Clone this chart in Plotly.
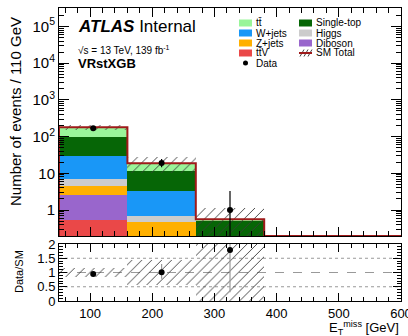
import numpy as np
import plotly.graph_objects as go

# ---------------- data ----------------
bin_edges = [50, 160, 270, 380, 600]
ttV        = [0.53, 0.0, 0.0, 0.0]
diboson    = [2.03, 0.0, 0.0, 0.0]
zjets      = [2.04, 0.46, 0.0, 0.0]
higgs      = [2.40, 0.24, 0.0, 0.0]
wjets      = [23.1, 2.60, 0.0, 0.0]
single_top = [69.0, 8.20, 0.53, 0.0]
ttbar      = [80.0, 7.30, 0.03, 0.0]
sm_unc     = [27.0, 8.50, 0.56, 0.0]
data       = [169, 19, 1]
data_err_lo = [12.5, 4.3, 0.83]
data_err_hi = [13.5, 5.4, 2.30]
x_ticks = [100, 200, 300, 400, 500, 600]

samples = [  # bottom -> top
    ("ttV", ttV, "#EA4848"),
    ("Diboson", diboson, "#9966CC"),
    ("Z+jets", zjets, "#FFB000"),
    ("Higgs", higgs, "#CCCCCC"),
    ("W+jets", wjets, "#1997F7"),
    ("Single-top", single_top, "#066606"),
    ("ttbar", ttbar, "#99F599"),
]

edges = np.array(bin_edges, dtype=float)
centers = 0.5 * (edges[:-1] + edges[1:])
widths = edges[1:] - edges[:-1]
nb = len(centers)

YMIN = 10 ** -0.708
YMAX = 10 ** 5.504
FLOOR = 1e-4

fig = go.Figure()

cum = np.zeros(nb)
for name, vals, col in samples:
    v = np.array(vals, dtype=float)
    base = np.where(cum > 0, cum, FLOOR)
    height = np.where(v > 0, cum + v - base, 0.0)
    fig.add_trace(go.Bar(x=centers, y=height, base=base, width=widths,
                         marker=dict(color=col, line=dict(width=0)),
                         xaxis="x", yaxis="y", showlegend=False, name=name))
    cum = cum + v
total = cum

unc = np.array(sm_unc)
lo = np.where(total - unc > 0, total - unc, FLOOR)
hi = total + unc
hh = np.where(unc > 0, hi - lo, 0.0)
hatch = dict(shape="/", fgcolor="#3a3a3a", bgcolor="rgba(0,0,0,0)", size=7,
             solidity=0.13, fillmode="replace")
fig.add_trace(go.Bar(x=centers, y=hh, base=lo, width=widths,
                     marker=dict(color="rgba(0,0,0,0)", line=dict(width=0), pattern=hatch),
                     xaxis="x", yaxis="y", showlegend=False))

# SM total step line
tclip = np.maximum(total, YMIN)
sx = [edges[0]] + list(edges[:-1]) + [edges[-1], edges[-1]]
sy = [YMIN] + list(tclip) + [tclip[-1], YMIN]
fig.add_trace(go.Scatter(x=sx, y=sy, mode="lines", line=dict(color="#9E1A1A", width=2, shape="hv"),
                         xaxis="x", yaxis="y", showlegend=False))

# data
nd = len(data)
fig.add_trace(go.Scatter(x=centers[:nd], y=data, mode="markers",
                         marker=dict(color="black", size=6),
                         error_y=dict(type="data", symmetric=False, array=data_err_hi,
                                      arrayminus=data_err_lo, color="black", thickness=1.2, width=0),
                         xaxis="x", yaxis="y", showlegend=False))

# ratio panel
rel = np.where(total > 0, unc / np.where(total > 0, total, 1), 0.0)
fig.add_trace(go.Bar(x=centers[:3], y=(2 * rel)[:3], base=(1 - rel)[:3], width=widths[:3],
                     marker=dict(color="rgba(0,0,0,0)", line=dict(width=0), pattern=hatch),
                     xaxis="x2", yaxis="y2", showlegend=False))
ratio = np.array(data) / total[:nd]
r_hi = np.array(data_err_hi) / total[:nd]
r_lo = np.array(data_err_lo) / total[:nd]
fig.add_trace(go.Scatter(x=centers[:nd], y=ratio, mode="markers",
                         marker=dict(color="black", size=6),
                         error_y=dict(type="data", symmetric=False, array=r_hi, arrayminus=r_lo,
                                      color="#999999", thickness=1.2, width=0),
                         xaxis="x2", yaxis="y2", showlegend=False))

FONT = "Liberation Sans, Arial, Helvetica, sans-serif"

# layout geometry (pixels)
W, H = 408, 336
L, R, T, B = 59, 7, 8, 35
PW, PH = W - L - R, H - T - B


def px(x):
    return (x - L) / PW


def py(y):
    return (H - B - y) / PH


main_bottom = py(236)
ratio_top = py(244)

axis_common = dict(showline=True, linecolor="black", linewidth=1, mirror="allticks",
                   ticks="inside", tickcolor="black", showgrid=False, zeroline=False,
                   automargin=False)

fig.update_layout(
    width=W, height=H, margin=dict(l=L, r=R, t=T, b=B, autoexpand=False),
    paper_bgcolor="white", plot_bgcolor="white",
    barmode="overlay", bargap=0,
    font=dict(family=FONT, color="black"),
    xaxis=dict(domain=[0, 1], anchor="y", range=[50, 600.0001], showticklabels=False,
               tickmode="array", tickvals=x_ticks, ticklen=9,
               minor=dict(ticks="inside", tick0=0, dtick=20, ticklen=5, tickcolor="black"),
               **axis_common),
    yaxis=dict(domain=[main_bottom, 1], anchor="x", type="log",
               range=[np.log10(YMIN), np.log10(YMAX)],
               tickmode="array", tickvals=[1, 10, 100, 1e3, 1e4, 1e5],
               ticktext=["1", "10", "10<sup>2</sup>", "10<sup>3</sup>", "10<sup>4</sup>", "10<sup>5</sup>"],
               tickfont=dict(size=15), ticklen=10,
               minor=dict(ticks="inside", dtick="D1", ticklen=5, tickcolor="black"),
               **axis_common),
    xaxis2=dict(domain=[0, 1], anchor="y2", range=[50, 600.0001], tickmode="array",
                tickvals=x_ticks, ticktext=[str(t) for t in x_ticks], ticklen=8,
                tickfont=dict(size=13), ticklabeloverflow="allow",
                minor=dict(ticks="inside", tick0=0, dtick=20, ticklen=4, tickcolor="black"),
                **axis_common),
    yaxis2=dict(domain=[0, ratio_top], anchor="x2", range=[0, 2], tickvals=[0, 0.5, 1, 1.5, 2],
                ticktext=["0", "0.5", "1", "1.5", "2"], tickfont=dict(size=13), ticklen=8,
                minor=dict(ticks="inside", dtick=0.1, ticklen=4, tickcolor="black"),
                **axis_common),
)

shapes = []
for yv, dash in [(0.5, "dot"), (1.0, "dash"), (1.5, "dot")]:
    shapes.append(dict(type="line", xref="x2", yref="y2", x0=50, x1=600, y0=yv, y1=yv,
                       line=dict(color="#999999", width=1, dash=dash), layer="below"))

ann = []
# ATLAS label
ann.append(dict(xref="paper", yref="paper", x=px(76), y=py(27), xanchor="left", yanchor="middle",
                text="<b><i>ATLAS</i></b> Internal", showarrow=False, font=dict(size=17)))
ann.append(dict(xref="paper", yref="paper", x=px(76), y=py(50), xanchor="left", yanchor="middle",
                text="√s = 13 TeV, 139 fb<sup>-1</sup>", showarrow=False, font=dict(size=10)))
ann.append(dict(xref="paper", yref="paper", x=px(76), y=py(63), xanchor="left", yanchor="middle",
                text="<b>VRstXGB</b>", showarrow=False, font=dict(size=13)))
# axis titles
ann.append(dict(xref="paper", yref="paper", x=px(16), y=py(112), xanchor="center", yanchor="middle",
                text="Number of events / 110 GeV", textangle=-90, showarrow=False, font=dict(size=15)))
ann.append(dict(xref="paper", yref="paper", x=px(19), y=py(272), xanchor="center", yanchor="middle",
                text="Data/SM", textangle=-90, showarrow=False, font=dict(size=11)))
ann.append(dict(xref="paper", yref="paper", x=px(401), y=py(328), xanchor="right", yanchor="middle",
                text="E<sub>T</sub><sup>miss</sup> [GeV]", showarrow=False, font=dict(size=13)))

# manual legend
legend_left = [("tt̄", "#99F599"), ("W+jets", "#1997F7"), ("Z+jets", "#FFB000"), ("tt̄V", "#EA4848")]
legend_right = [("Single-top", "#066606"), ("Higgs", "#CCCCCC"), ("Diboson", "#9966CC")]
rows = [23, 33, 43, 53, 63]
for i, (lab, col) in enumerate(legend_left):
    shapes.append(dict(type="rect", xref="paper", yref="paper", x0=px(239), x1=px(252),
                       y0=py(rows[i] + 3.5), y1=py(rows[i] - 3.5), fillcolor=col, line=dict(width=0)))
    ann.append(dict(xref="paper", yref="paper", x=px(254), y=py(rows[i]), xanchor="left",
                    yanchor="middle", text=lab, showarrow=False, font=dict(size=10)))
for i, (lab, col) in enumerate(legend_right):
    shapes.append(dict(type="rect", xref="paper", yref="paper", x0=px(299), x1=px(312),
                       y0=py(rows[i] + 3.5), y1=py(rows[i] - 3.5), fillcolor=col, line=dict(width=0)))
    ann.append(dict(xref="paper", yref="paper", x=px(314), y=py(rows[i]), xanchor="left",
                    yanchor="middle", text=lab, showarrow=False, font=dict(size=10)))
# SM total swatch
for xx in [300, 304, 308]:
    shapes.append(dict(type="line", xref="paper", yref="paper", x0=px(xx), x1=px(xx + 4),
                       y0=py(rows[3] + 3.5), y1=py(rows[3] - 3.5), line=dict(color="#444", width=1)))
shapes.append(dict(type="line", xref="paper", yref="paper", x0=px(299), x1=px(312),
                   y0=py(rows[3]), y1=py(rows[3]), line=dict(color="#9E1A1A", width=2)))
ann.append(dict(xref="paper", yref="paper", x=px(314), y=py(rows[3]), xanchor="left",
                yanchor="middle", text="SM Total", showarrow=False, font=dict(size=10)))
# Data
shapes.append(dict(type="circle", xref="paper", yref="paper", x0=px(243), x1=px(248),
                   y0=py(rows[4] + 2.5), y1=py(rows[4] - 2.5), fillcolor="black", line=dict(width=0)))
ann.append(dict(xref="paper", yref="paper", x=px(254), y=py(rows[4]), xanchor="left",
                yanchor="middle", text="Data", showarrow=False, font=dict(size=10)))

fig.update_layout(shapes=shapes, annotations=ann)
fig.write_html("out.html")
